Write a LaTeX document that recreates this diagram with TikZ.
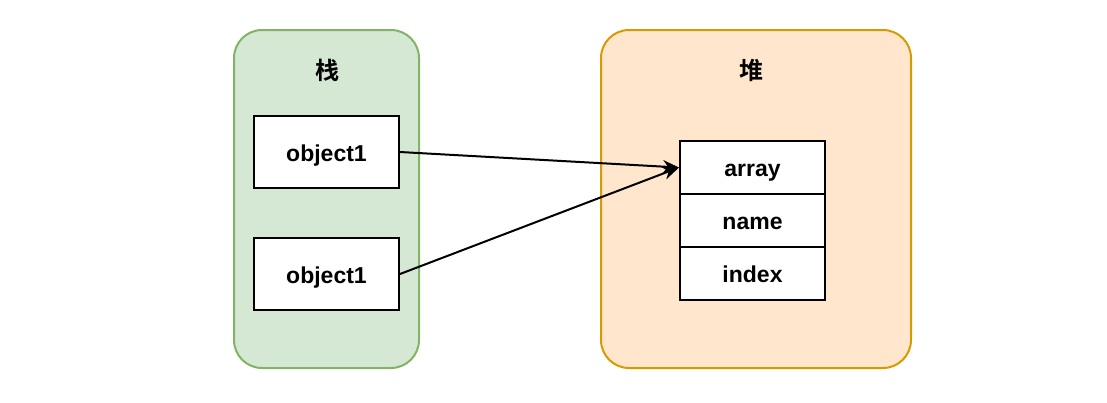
\documentclass[tikz,border=0pt]{standalone}
\usepackage{fontspec}
\setmainfont{Liberation Sans}
\newfontfamily\cjk{Noto Sans CJK SC Bold}
\usetikzlibrary{arrows.meta}
\definecolor{gfill}{HTML}{D5E8D4}
\definecolor{gline}{HTML}{82B366}
\definecolor{ofill}{HTML}{FFE6CC}
\definecolor{oline}{HTML}{D79B00}
\tikzset{
  container/.style={draw, line width=2pt, rounded corners=28pt},
  cell/.style={draw, line width=2pt, fill=white, text height=22pt, text depth=4pt,
    font=\fontsize{23}{27}\selectfont\bfseries},
  title/.style={font=\fontsize{24}{28}\selectfont\cjk},
  link/.style={line width=2pt, -{Stealth[length=16pt,width=13pt,inset=5pt]}}
}
\begin{document}
\begin{tikzpicture}[x=1pt,y=-1pt]
\useasboundingbox (0,0) rectangle (1107,402);
\draw[container, fill=gfill, draw=gline] (234,30) rectangle (419,368);
\draw[container, fill=ofill, draw=oline] (601,30) rectangle (911,368);
\node[title] (t1) at (327,70) {栈};
\node[title] (t2) at (751,70) {堆};
\node[cell, minimum width=145pt, minimum height=72pt] (o1) at (326.5,152) {object1};
\node[cell, minimum width=145pt, minimum height=72pt] (o2) at (326.5,274) {object1};
\node[cell, minimum width=145pt, minimum height=53pt] (a) at (752.5,167.5) {array};
\node[cell, minimum width=145pt, minimum height=53pt] (n) at (752.5,220.5) {name};
\node[cell, minimum width=145pt, minimum height=53pt] (i) at (752.5,273.5) {index};
\draw[link] (o1.east) -- (a.west);
\draw[link] (o2.east) -- (a.west);
\end{tikzpicture}
\end{document}
